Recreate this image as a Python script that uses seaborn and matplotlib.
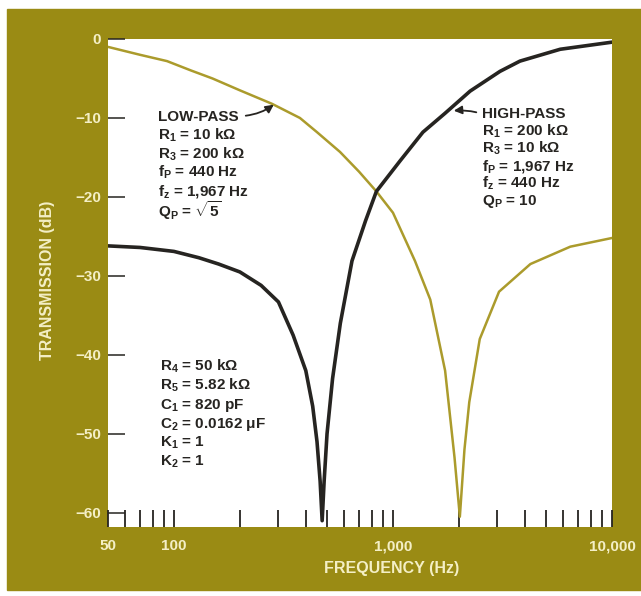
import matplotlib
matplotlib.use("Agg")
import matplotlib.pyplot as plt
import seaborn as sns
import pandas as pd
from matplotlib.patches import Rectangle
from matplotlib.ticker import FixedLocator, FixedFormatter, NullFormatter

# ---------------- data ----------------
hp_freq = [50, 70, 100, 130, 160, 200, 250, 300, 350, 400, 430, 450, 465, 475,
           485, 500, 530, 575, 650, 750, 840, 1080, 1370, 1730, 2250, 3080,
           3800, 5800, 10000]
hp_db = [-26.2, -26.4, -26.9, -27.7, -28.5, -29.5, -31.2, -33.3, -37.5, -42.0,
         -46.5, -51.0, -56.0, -61.0, -56.0, -50.0, -43.0, -36.0, -28.1, -23.0,
         -19.3, -15.4, -11.8, -9.4, -6.6, -4.1, -2.8, -1.3, -0.4]

lp_freq = [50, 70, 93, 120, 150, 200, 280, 376, 450, 573, 700, 840, 1000, 1260,
           1480, 1730, 1910, 2020, 2120, 2230, 2490, 3050, 4240, 6450, 10000]
lp_db = [-1.0, -2.0, -2.8, -4.0, -5.0, -6.5, -8.2, -10.0, -11.8, -14.3, -16.8,
         -19.3, -22.0, -28.1, -33.0, -42.0, -53.0, -60.5, -52.0, -46.0, -38.0,
         -32.0, -28.5, -26.3, -25.2]

x_major = [50, 100, 1000, 10000]
x_major_labels = ["50", "100", "1,000", "10,000"]
x_minor = [60, 70, 80, 90, 200, 300, 400, 500, 600, 700, 800, 900,
           2000, 3000, 4000, 5000, 6000, 7000, 8000, 9000]
y_ticks = [0, -10, -20, -30, -40, -50, -60]
y_labels = ["0", "\u221210", "\u221220", "\u221230", "\u221240", "\u221250", "\u221260"]

lp_text = ["LOW-PASS", "R$_1$ = 10 k\u03a9", "R$_3$ = 200 k\u03a9",
           "f$_P$ = 440 Hz", "f$_z$ = 1,967 Hz", "Q$_P$ = $\\sqrt{5}$"]
hp_text = ["HIGH-PASS", "R$_1$ = 200 k\u03a9", "R$_3$ = 10 k\u03a9",
           "f$_P$ = 1,967 Hz", "f$_z$ = 440 Hz", "Q$_P$ = 10"]
common_text = ["R$_4$ = 50 k\u03a9", "R$_5$ = 5.82 k\u03a9", "C$_1$ = 820 pF",
               "C$_2$ = 0.0162 $\\mu$F", "K$_1$ = 1", "K$_2$ = 1"]

# ---------------- style ----------------
sns.set_theme(style="white")
FONT = ["Liberation Sans Narrow", "Liberation Sans", "DejaVu Sans"]
plt.rcParams["font.family"] = FONT
plt.rcParams["font.weight"] = "bold"
plt.rcParams["mathtext.fontset"] = "custom"
plt.rcParams["mathtext.rm"] = "Liberation Sans:bold"
plt.rcParams["mathtext.it"] = "Liberation Sans:bold"
plt.rcParams["mathtext.bf"] = "Liberation Sans:bold"

OLIVE = "#9a8b14"
GOLD = "#ab9b2c"
CREAM = "#f4efc6"
INK = "#262421"

W, H = 641, 596
fig = plt.figure(figsize=(W / 100, H / 100), dpi=100)
fig.patch.set_facecolor("white")
fig.patches.append(Rectangle((7 / W, 6 / H), 1, (590 - 9) / H,
                             transform=fig.transFigure, color=OLIVE, zorder=-10))

L, R, T, B = 108, 612, 39, 527
ax = fig.add_axes([L / W, (H - B) / H, (R - L) / W, (B - T) / H])
ax.set_zorder(5)
ax.set_facecolor("white")
for s in ax.spines.values():
    s.set_visible(False)

hp = pd.DataFrame({"freq": hp_freq, "db": hp_db})
lp = pd.DataFrame({"freq": lp_freq, "db": lp_db})
sns.lineplot(data=lp, x="freq", y="db", ax=ax, color=GOLD, lw=1.8,
             estimator=None, sort=False)
sns.lineplot(data=hp, x="freq", y="db", ax=ax, color=INK, lw=2.6,
             estimator=None, sort=False)

ax.set_xscale("log")
ax.set_xlim(50, 10000)
ax.set_ylim(-61.8, 0)

ax.xaxis.set_major_locator(FixedLocator(x_major))
ax.xaxis.set_major_formatter(FixedFormatter(x_major_labels))
ax.xaxis.set_minor_locator(FixedLocator(x_minor))
ax.xaxis.set_minor_formatter(NullFormatter())
ax.set_yticks(y_ticks)
ax.set_yticklabels(y_labels)

ax.tick_params(axis="x", which="both", direction="in", length=12, width=1.3,
               color=INK, bottom=True, pad=9, labelsize=11, labelcolor=CREAM)
ax.tick_params(axis="y", which="both", direction="in", length=12, width=1.1,
               color=INK, left=True, pad=5, labelsize=11, labelcolor=CREAM)
for lab in ax.get_xticklabels() + ax.get_yticklabels():
    lab.set_fontweight("bold")

ax.set_xlabel("")
ax.set_ylabel("")
fig.text(48 / W, 1 - 280 / H, "TRANSMISSION (dB)", rotation=90, ha="center",
         va="center", color=CREAM, fontsize=11.5, fontweight="bold")
fig.text(392 / W, 1 - 569 / H, "FREQUENCY (Hz)", ha="center", va="center",
         color=CREAM, fontsize=11.5, fontweight="bold")


def px(xp, yp):
    return ((xp - L) / (R - L), (B - yp) / (B - T))


def block(lines, x0, y0, dy, extra_last=0.0):
    for i, t in enumerate(lines):
        yy = y0 + i * dy + (extra_last if i == len(lines) - 1 else 0.0)
        ax.text(*px(x0, yy), t, transform=ax.transAxes, ha="left",
                va="baseline", color=INK, fontsize=11, fontweight="bold")


block(lp_text, 158, 121, 18.6, extra_last=3.0)
block(hp_text, 482, 118.5, 17.2)
block(common_text, 160, 371, 19)

ax.annotate("", xy=px(276, 103), xycoords="axes fraction",
            xytext=px(243, 116), textcoords="axes fraction",
            arrowprops=dict(arrowstyle="-|>", color=INK, lw=1.3,
                            connectionstyle="arc3,rad=0.15", mutation_scale=12))
ax.annotate("", xy=px(451, 111), xycoords="axes fraction",
            xytext=px(479, 113), textcoords="axes fraction",
            arrowprops=dict(arrowstyle="-|>", color=INK, lw=1.3,
                            connectionstyle="arc3,rad=0.1", mutation_scale=12))

fig.savefig("out.png", dpi=100, facecolor=fig.get_facecolor())
